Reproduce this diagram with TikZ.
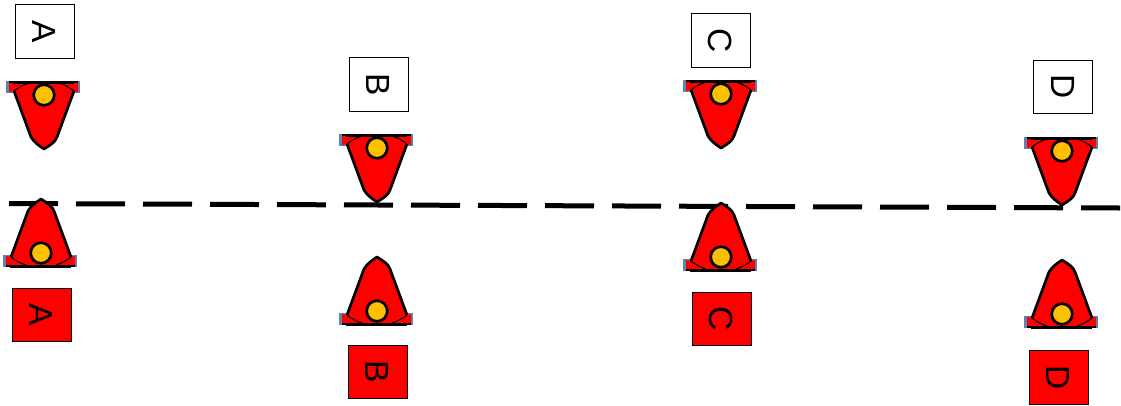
\documentclass[tikz,border=0pt]{standalone}
\usepackage{fontspec}
\setmainfont{Liberation Sans}
\definecolor{hatred}{HTML}{FF0000}
\definecolor{hatblue}{HTML}{5B84B1}
\definecolor{dot}{HTML}{FFC000}
\tikzset{
  labelbox/.style={draw=black,line width=0.9pt,minimum width=59pt,minimum height=53.5pt,inner sep=0pt,font=\fontsize{33.5}{36}\selectfont},
  whitebox/.style={labelbox,fill=white},
  redbox/.style={labelbox,fill=hatred},
  outline/.style={draw=black,line width=2.7pt,line join=round},
  hat/.pic={
    \fill[hatblue] (-38,-1) rectangle (36,11);
    \fill[hatred] (-35,0) -- (34,0) -- (34,10) -- (29,9) -- (-30,9) -- (-35,10) -- cycle;
    \fill[hatred] (-30,9) -- (-17,1) -- (17,1) -- (30,9)
       -- (13,55) .. controls (11,60) and (8,62) .. (0,67) .. controls (-6,63) and (-10,60) .. (-13,55) -- cycle;
    \draw[black,line width=1.1pt] (-30,9) .. controls (-25,5) and (-21,3) .. (-15,1);
    \draw[black,line width=1.1pt] (30,9) .. controls (25,5) and (21,3) .. (15,1);
    \path[outline] (-30,9) -- (-13,55) .. controls (-10,60) and (-6,63) .. (0,67) .. controls (8,62) and (11,60) .. (13,55) -- (30,9);
    \draw[black,line width=3pt] (-31,0) -- (30,0);
    \draw[black,line width=1.2pt] (-35,0) -- (34,0);
    \path[outline,fill=dot] (0,13) circle (10.3);
  }
}
\begin{document}
\begin{tikzpicture}[x=1pt,y=-1pt]
\useasboundingbox (0,0) rectangle (1121,405);
\coordinate (lineL) at (9,203.5);
\coordinate (lineR) at (1120,208);
\draw[black,line width=5pt,dash pattern=on 49pt off 18pt] (lineL) -- (lineR);
\node[whitebox] (wa) at (44.5,31.5) {\rotatebox{-90}{A}};
\node[whitebox] (wb) at (378.5,84.5) {\rotatebox{-90}{B}};
\node[whitebox] (wc) at (720.5,40.5) {\rotatebox{-90}{C}};
\node[whitebox] (wd) at (1063,87) {\rotatebox{-90}{D}};
\node[redbox] (ra) at (41.5,315) {\rotatebox{-90}{A}};
\node[redbox] (rb) at (377.5,372) {\rotatebox{-90}{B}};
\node[redbox] (rc) at (721.5,319) {\rotatebox{-90}{C}};
\node[redbox] (rd) at (1058.5,377.5) {\rotatebox{-90}{D}};
\pic at (44,82) {hat};
\pic at (377,135) {hat};
\pic at (721,81) {hat};
\pic at (1062,138) {hat};
\pic[yscale=-1] at (41,266) {hat};
\pic[yscale=-1] at (377,324) {hat};
\pic[yscale=-1] at (721,270) {hat};
\pic[yscale=-1] at (1062,327) {hat};
\end{tikzpicture}
\end{document}
